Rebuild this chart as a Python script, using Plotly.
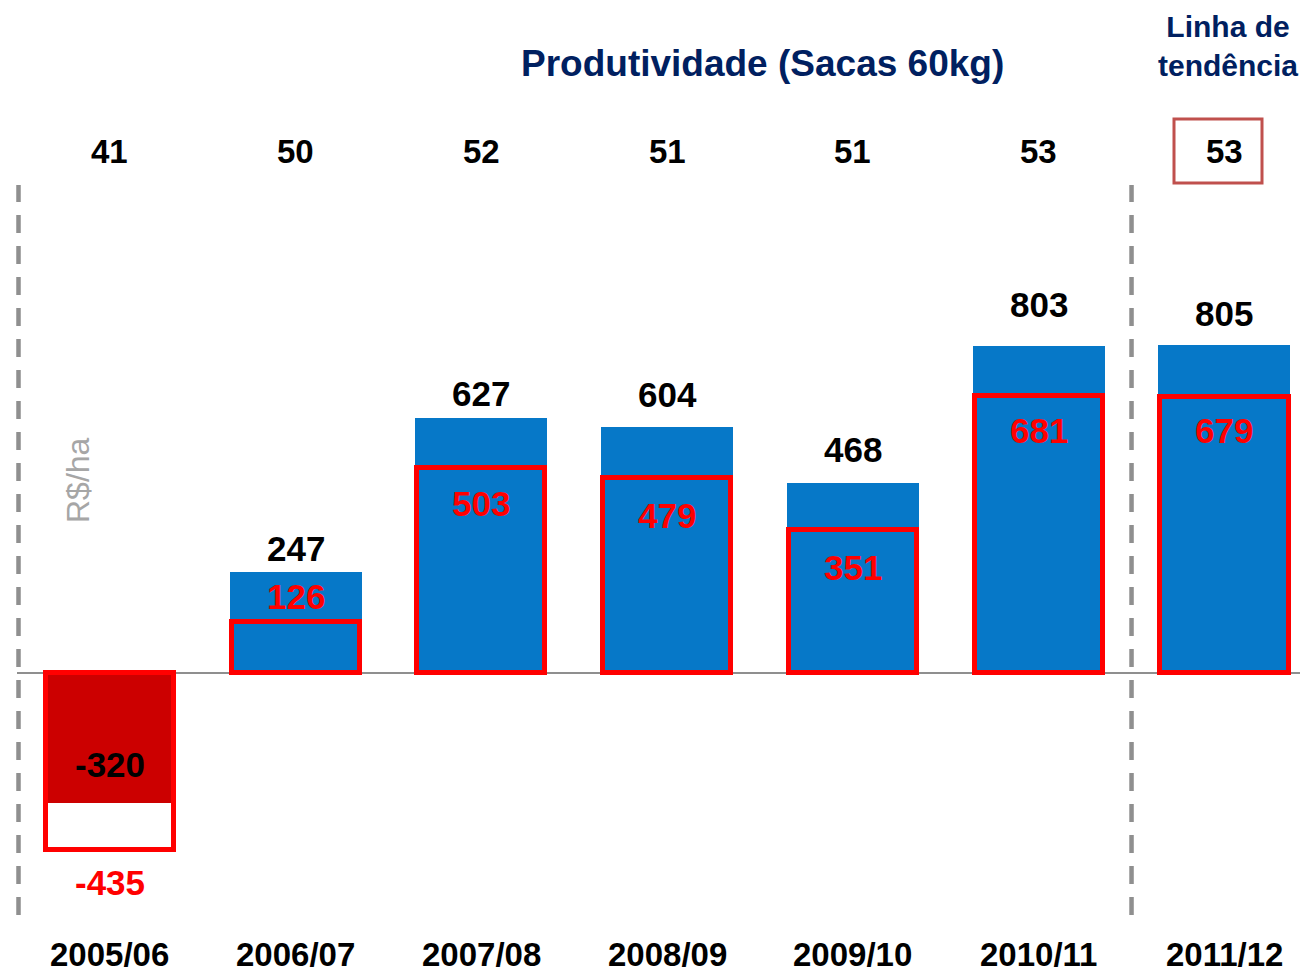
import plotly.graph_objects as go

# ---- data ----
seasons = ["2005/06", "2006/07", "2007/08", "2008/09", "2009/10", "2010/11", "2011/12"]
productivity = [41, 50, 52, 51, 51, 53, 53]
margin_bruta = [-320, 247, 627, 604, 468, 803, 805]      # filled bars
margin_liquida = [-435, 126, 503, 479, 351, 681, 679]    # red outlined bars

# ---- styling / layout helpers (not data) ----
fill_colors = ["#CC0000"] + ["#0678C8"] * 6
black_shift = [39, 24, 24, 33, 33, 42, 32]
red_shift = [-32, 25, -35, -37, -37, -35, -34]
navy = "#002060"
font = "Liberation Sans, Arial, sans-serif"

W, H = 1300, 966          # page body has an 8px margin
L = 9
PW = W - L


def py(ref_y):
    return 1 - (ref_y - 8) / H


def px(ref_x):
    return (ref_x - 8 - L) / PW


fig = go.Figure()
fig.add_trace(go.Bar(
    x=seasons, y=margin_bruta, width=0.71,
    marker=dict(color=fill_colors, line=dict(width=0)),
    hoverinfo="x+y", showlegend=False,
))
fig.add_trace(go.Bar(
    x=seasons, y=margin_liquida, width=0.69,
    marker=dict(color="rgba(0,0,0,0)", line=dict(color="#FF0000", width=5)),
    hoverinfo="x+y", showlegend=False,
))

ann = []
for s, v, sh in zip(seasons, margin_bruta, black_shift):
    ann.append(dict(x=s, y=v, xref="x", yref="y", yshift=sh, text=f"<b>{v}</b>",
                    xanchor="center", yanchor="middle", showarrow=False,
                    font=dict(size=35, color="black", family=font)))
for s, v, sh in zip(seasons, margin_liquida, red_shift):
    ann.append(dict(x=s, y=v, xref="x", yref="y", yshift=sh, text=f"<b>{v}</b>",
                    xanchor="center", yanchor="middle", showarrow=False,
                    font=dict(size=35, color="#FF0000", family=font)))
for s, p in zip(seasons, productivity):
    ann.append(dict(x=s, y=py(151), xref="x", yref="paper", text=f"<b>{p}</b>",
                    xanchor="center", yanchor="middle", showarrow=False,
                    font=dict(size=33, color="black", family=font)))
for s in seasons:
    ann.append(dict(x=s, y=py(954), xref="x", yref="paper", text=f"<b>{s}</b>",
                    xanchor="center", yanchor="middle", showarrow=False,
                    font=dict(size=33, color="black", family=font)))
ann.append(dict(x=px(762), y=py(63), xref="paper", yref="paper",
                text="<b>Produtividade (Sacas 60kg)</b>", showarrow=False,
                xanchor="center", yanchor="middle",
                font=dict(size=37, color=navy, family=font)))
ann.append(dict(x=px(1228), y=py(46), xref="paper", yref="paper",
                text="<b>Linha de<br>tendência</b>", showarrow=False,
                xanchor="center", yanchor="middle",
                font=dict(size=30, color=navy, family=font)))
ann.append(dict(x=px(78), y=py(480), xref="paper", yref="paper",
                text="R$/ha", textangle=-90, showarrow=False,
                xanchor="center", yanchor="middle",
                font=dict(size=32, color="#A6A6A6", family=font)))

dash_line = dict(color="#8F8F8F", width=4.5, dash="18px,13px")
shapes = [
    dict(type="line", xref="paper", yref="paper", x0=px(18.5), x1=px(18.5),
         y0=py(915), y1=py(185), line=dash_line),
    dict(type="line", xref="x", yref="paper", x0=5.5, x1=5.5,
         y0=py(915), y1=py(185), line=dash_line),
    dict(type="rect", xref="paper", yref="paper", x0=px(1174), x1=px(1262),
         y0=py(183), y1=py(119),
         line=dict(color="#C0504D", width=3), fillcolor="rgba(0,0,0,0)"),
]

zero_px = 673 - 8
scale = 0.407
fig.update_layout(
    width=W, height=H,
    margin=dict(l=L, r=0, t=0, b=0),
    paper_bgcolor="white", plot_bgcolor="white",
    barmode="overlay", bargap=0,
    xaxis=dict(range=[-0.5, 6.45], visible=False, showgrid=False),
    yaxis=dict(range=[-(H - zero_px) / scale, zero_px / scale], showgrid=False,
               showticklabels=False, zeroline=True, zerolinecolor="#8F8F8F",
               zerolinewidth=2),
    annotations=ann, shapes=shapes,
)
fig.write_html("out.html")
